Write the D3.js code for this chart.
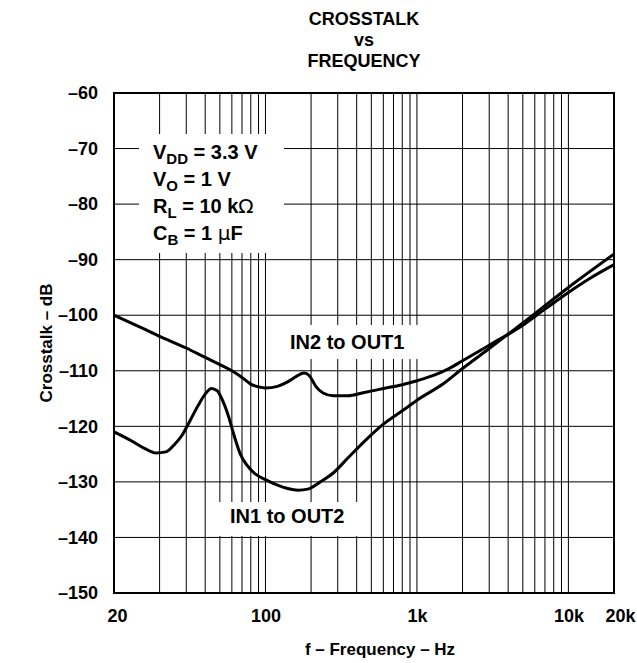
<!DOCTYPE html>
<html>
<head>
<meta charset="utf-8">
<script src="https://cdn.jsdelivr.net/npm/d3@7"></script>
<style>
  html, body { margin: 0; padding: 0; background: #fff; }
  svg { display: block; font-family: "Liberation Sans", Arial, Helvetica, sans-serif; font-weight: bold; }
</style>
</head>
<body>
<svg id="chart" width="637" height="663"></svg>
<script>
// Crosstalk vs frequency, two channel directions
const in2Freq = [10, 15, 20, 30, 40, 50, 60, 70, 80, 90, 100, 120, 140, 160, 180, 195, 215, 240, 280, 350, 450, 600, 800, 1000, 1300, 1600, 2000, 3000, 5000, 7000, 10000, 14000, 20000];
const in2Db   = [-100, -102.2, -103.8, -105.9, -107.6, -108.9, -110.0, -111.2, -112.4, -112.9, -113.1, -112.8, -112.0, -111.0, -110.4, -110.9, -112.8, -114.0, -114.5, -114.5, -113.9, -113.2, -112.5, -111.8, -110.8, -109.7, -108.2, -105.4, -101.8, -98.9, -95.9, -93.3, -90.9];

const in1Freq = [10, 13, 16, 19, 22, 25, 28, 32, 36, 40, 44, 48, 52, 57, 62, 68, 75, 85, 100, 120, 140, 165, 190, 230, 280, 350, 450, 600, 800, 1000, 1500, 2000, 3000, 5000, 10000, 20000];
const in1Db   = [-121.0, -122.6, -124.0, -124.8, -124.6, -123.3, -121.7, -118.8, -116.2, -114.2, -113.2, -113.6, -115.3, -118.2, -121.6, -124.9, -126.9, -128.5, -129.6, -130.6, -131.2, -131.5, -131.3, -130.0, -128.4, -125.7, -122.7, -119.6, -117.2, -115.3, -112.3, -109.6, -106.0, -101.4, -95.0, -89.0];

// Axis ticks
const yTicks = [-60, -70, -80, -90, -100, -110, -120, -130, -140, -150];
const xTickValues = [10, 100, 1000, 10000, 20000];
const xTickLabels = ["20", "100", "1k", "10k", "20k"];
const xGridValues = [20, 30, 40, 50, 60, 70, 80, 90, 100, 200, 300, 400, 500, 600, 700, 800, 900, 1000, 2000, 3000, 4000, 5000, 6000, 7000, 8000, 9000, 10000];

const titleLines = ["CROSSTALK", "vs", "FREQUENCY"];
const conditions = [
  { main: "V", sub: "DD", rest: " = 3.3 V" },
  { main: "V", sub: "O", rest: " = 1 V" },
  { main: "R", sub: "L", rest: " = 10 k", sym: "Ω" },
  { main: "C", sub: "B", rest: " = 1 ", sym: "µ", tail: "F" }
];

const svg = d3.select("#chart");
const plot = { left: 114, right: 614, top: 93, bottom: 593 };

const x = d3.scaleLog().domain([10, 20000]).range([plot.left, plot.right]);
const y = d3.scaleLinear().domain([-150, -60]).range([plot.bottom, plot.top]);

// Grid
const grid = svg.append("g").attr("stroke", "#000").attr("stroke-width", 1);
grid.selectAll("line.v").data(xGridValues).join("line")
  .attr("x1", d => x(d)).attr("x2", d => x(d))
  .attr("y1", plot.top).attr("y2", plot.bottom);
grid.selectAll("line.h").data(yTicks.slice(1, -1)).join("line")
  .attr("x1", plot.left).attr("x2", plot.right)
  .attr("y1", d => y(d)).attr("y2", d => y(d));

// White panels behind the annotations
const panels = [
  { x0: 139, x1: 284, y0: 134, y1: 253 },
  { x0: 285, x1: 421, y0: 325, y1: 359 },
  { x0: 216, x1: 362, y0: 502, y1: 536 }
];
svg.append("g").selectAll("rect").data(panels).join("rect")
  .attr("x", d => d.x0).attr("y", d => d.y0)
  .attr("width", d => d.x1 - d.x0).attr("height", d => d.y1 - d.y0)
  .attr("fill", "#fff");

// Curves
const line = d3.line()
  .x(d => x(d[0])).y(d => y(d[1]))
  .curve(d3.curveMonotoneX);
const series = [
  d3.zip(in2Freq, in2Db),
  d3.zip(in1Freq, in1Db)
];
svg.append("g").selectAll("path").data(series).join("path")
  .attr("d", line)
  .attr("fill", "none").attr("stroke", "#000")
  .attr("stroke-width", 3).attr("stroke-linejoin", "round");

// Frame
svg.append("rect")
  .attr("x", plot.left).attr("y", plot.top)
  .attr("width", plot.right - plot.left).attr("height", plot.bottom - plot.top)
  .attr("fill", "none").attr("stroke", "#000").attr("stroke-width", 2);

// Y axis labels
const yAxis = d3.axisLeft(y).tickValues(yTicks).tickSize(0).tickPadding(16)
  .tickFormat(d => "–" + Math.abs(d));
const yg = svg.append("g").attr("transform", `translate(${plot.left},0)`).call(yAxis);
yg.select(".domain").remove();
yg.selectAll("text").attr("font-size", 18).attr("font-family", null).attr("fill", "#000");

// X axis labels
const xAxis = d3.axisBottom(x).tickValues(xTickValues).tickSize(0).tickPadding(16)
  .tickFormat((d, i) => xTickLabels[i]);
const xg = svg.append("g").attr("transform", `translate(0,${plot.bottom})`).call(xAxis);
xg.select(".domain").remove();
xg.selectAll("text").attr("font-size", 18).attr("font-family", null).attr("fill", "#000");
xg.selectAll(".tick").filter(d => d === 10).select("text").attr("dx", 3);
xg.selectAll(".tick").filter(d => d === 20000).select("text").attr("dx", 6);

// Axis titles
svg.append("text")
  .attr("transform", `translate(52,${(plot.top + plot.bottom) / 2}) rotate(-90)`)
  .attr("text-anchor", "middle").attr("font-size", 17)
  .text("Crosstalk – dB");
svg.append("text")
  .attr("x", 380).attr("y", 655)
  .attr("text-anchor", "middle").attr("font-size", 17)
  .text("f – Frequency – Hz");

// Title
svg.append("g").selectAll("text").data(titleLines).join("text")
  .attr("x", 364).attr("y", (d, i) => 25 + i * 21)
  .attr("text-anchor", "middle").attr("font-size", 18)
  .text(d => d);

// Operating conditions
const cond = svg.append("g").selectAll("text").data(conditions).join("text")
  .attr("x", 153).attr("y", (d, i) => 159 + i * 27)
  .attr("font-size", 20);
cond.append("tspan").text(d => d.main);
cond.append("tspan").attr("font-size", 15).attr("dy", 5).text(d => d.sub);
cond.append("tspan").attr("dy", -5).text(d => d.rest);
cond.filter(d => d.sym).append("tspan").attr("font-weight", "normal")
  .attr("font-family", "DejaVu Sans, sans-serif").text(d => d.sym);
cond.filter(d => d.tail).append("tspan").text(d => d.tail);

// Curve labels
svg.append("text").attr("x", 290).attr("y", 349).attr("font-size", 20).text("IN2 to OUT1");
svg.append("text").attr("x", 230).attr("y", 523).attr("font-size", 20).text("IN1 to OUT2");
</script>
</body>
</html>
